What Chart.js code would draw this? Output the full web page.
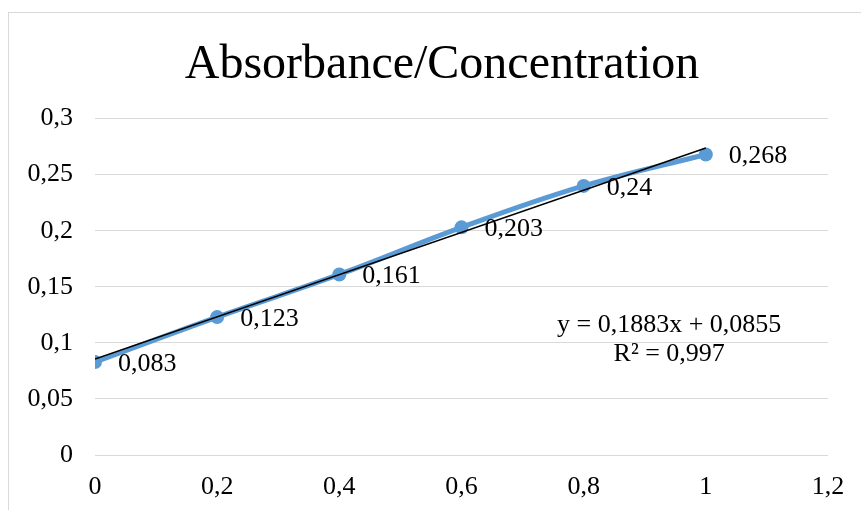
<!DOCTYPE html>
<html lang="en">
<head>
  <meta charset="UTF-8">
  <title>Absorbance/Concentration</title>
  <script src="https://cdn.jsdelivr.net/npm/chart.js@4.4.1/dist/chart.umd.min.js"></script>
  <style>
    html, body { margin: 0; padding: 0; background: #fff; overflow: hidden; }
    #frame {
      position: absolute; left: 8px; top: 12px;
      width: 866px; height: 520px;
      border: 1px solid #d9d9d9;
    }
    #absChart { display: block; }
  </style>
</head>
<body>
  <div id="frame">
    <canvas id="absChart" width="866" height="498"></canvas>
  </div>
  <script>
    const concentration = [0, 0.2, 0.4, 0.6, 0.8, 1];
    const absorbance = [0.083, 0.123, 0.161, 0.203, 0.24, 0.268];
    const xTickLabels = ['0', '0,2', '0,4', '0,6', '0,8', '1', '1,2'];
    const yTickLabels = ['0', '0,05', '0,1', '0,15', '0,2', '0,25', '0,3'];

    // linear trendline as reported on the chart
    const trendSlope = 0.1883;
    const trendIntercept = 0.0855;
    const rSquared = 0.997;

    const serif = "'Times New Roman', 'Liberation Serif', serif";
    const comma = v => String(v).replace('.', ',');

    const measured = concentration.map((x, i) => ({ x: x, y: absorbance[i] }));
    const trendEnds = [concentration[0], concentration[concentration.length - 1]];
    const trend = trendEnds.map(x => ({ x: x, y: trendSlope * x + trendIntercept }));

    // value labels to the right of each point, plus the trendline equation
    const annotations = {
      id: 'annotations',
      afterDatasetsDraw(chart) {
        const ctx = chart.ctx;
        const meta = chart.getDatasetMeta(1);
        ctx.save();
        ctx.fillStyle = '#000';
        ctx.font = '26px ' + serif;
        ctx.textAlign = 'left';
        ctx.textBaseline = 'middle';
        meta.data.forEach((pt, i) => {
          ctx.fillText(comma(absorbance[i]), pt.x + 23, pt.y + 2);
        });

        const xs = chart.scales.x, ys = chart.scales.y;
        const ex = xs.getPixelForValue(0.94);
        const ey = ys.getPixelForValue(0.116);
        ctx.textAlign = 'center';
        ctx.fillText('y = ' + comma(trendSlope) + 'x + ' + comma(trendIntercept), ex, ey);
        ctx.fillText('R² = ' + comma(rSquared), ex, ey + 29);
        ctx.restore();
      }
    };

    new Chart(document.getElementById('absChart'), {
      type: 'line',
      data: {
        datasets: [
          {
            label: 'Linear trend',
            data: trend,
            borderColor: '#000',
            borderWidth: 1.5,
            pointRadius: 0,
            tension: 0
          },
          {
            label: 'Absorbance',
            data: measured,
            borderColor: '#5b9bd5',
            backgroundColor: '#5b9bd5',
            borderWidth: 5,
            borderCapStyle: 'round',
            pointRadius: 7,
            pointBorderWidth: 0,
            pointBackgroundColor: '#5b9bd5',
            tension: 0.4
          }
        ]
      },
      options: {
        responsive: false,
        animation: false,
        layout: { padding: 0 },
        plugins: {
          legend: { display: false },
          tooltip: { enabled: false },
          title: {
            display: true,
            text: 'Absorbance/Concentration',
            color: '#000',
            font: { family: serif, size: 48, weight: 'normal', lineHeight: 1.2 },
            padding: { top: 24, bottom: 24 }
          }
        },
        scales: {
          x: {
            type: 'linear',
            min: 0,
            max: 1.2,
            grid: { display: false, drawTicks: false },
            border: { display: false },
            ticks: {
              stepSize: 0.2,
              padding: 17,
              color: '#000',
              font: { family: serif, size: 26 },
              callback: (v, i) => xTickLabels[i]
            },
            afterFit: s => { s.height = 56; }
          },
          y: {
            min: 0,
            max: 0.3,
            grid: { color: '#d9d9d9', lineWidth: 1, drawTicks: false },
            border: { display: false },
            ticks: {
              stepSize: 0.05,
              padding: 22,
              color: '#000',
              font: { family: serif, size: 26 },
              callback: (v, i) => yTickLabels[i]
            },
            afterFit: s => { s.width = 86; }
          },
          // empty right-hand axis keeps room on the right without shifting the title
          yRight: {
            position: 'right',
            display: true,
            grid: { display: false, drawTicks: false },
            border: { display: false },
            ticks: { display: false },
            afterFit: s => { s.width = 47; }
          }
        }
      },
      plugins: [annotations]
    });
  </script>
</body>
</html>
